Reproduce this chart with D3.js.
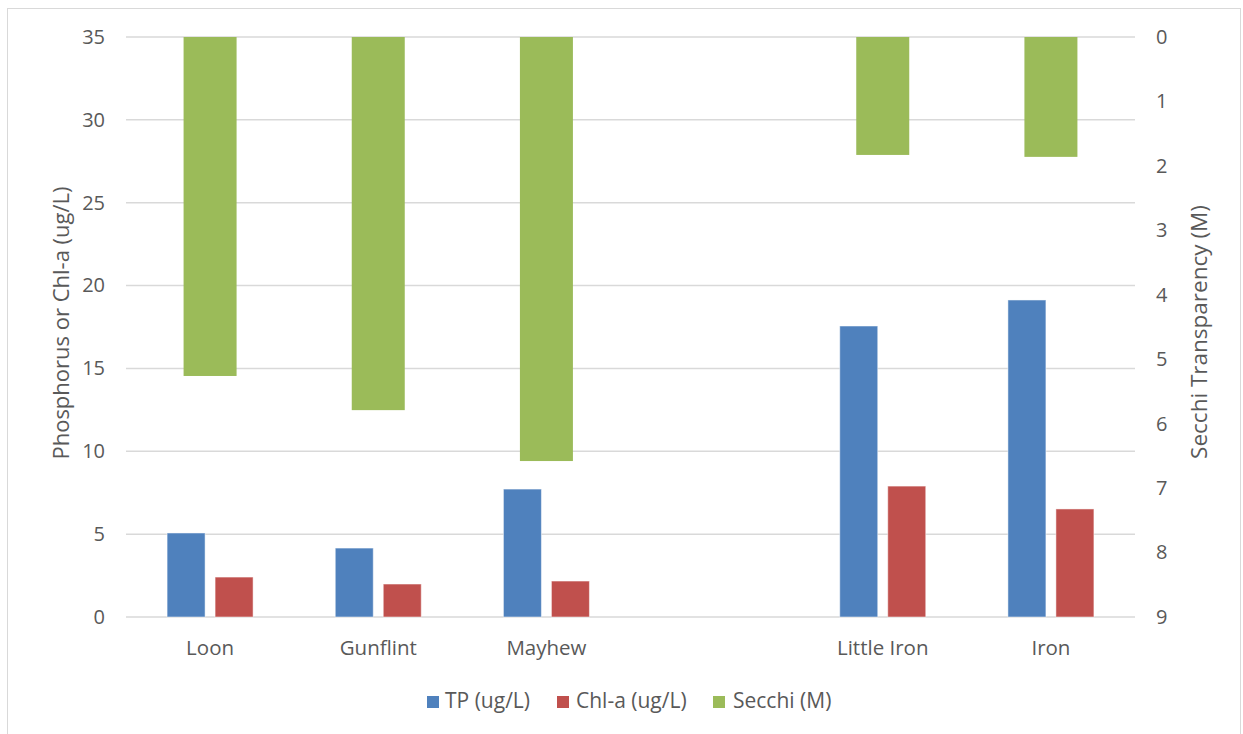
<!DOCTYPE html>
<html><head><meta charset="utf-8">
<script src="https://cdn.jsdelivr.net/npm/d3@7"></script>
<style>body{margin:0;background:#fff;} text{font-family:"Open Sans",sans-serif;fill:#595959;}</style>
</head><body><svg id="c" width="1243" height="734"></svg>
<script>
const categories = ["Loon", "Gunflint", "Mayhew", "", "Little Iron", "Iron"];
const tpValues = [5.07, 4.16, 7.72, null, 17.56, 19.13];
const chlValues = [2.41, 1.99, 2.17, null, 7.9, 6.52];
const secchiValues = [5.26, 5.79, 6.58, null, 1.83, 1.86];
const leftTicks = [0, 5, 10, 15, 20, 25, 30, 35];
const rightTicks = [0, 1, 2, 3, 4, 5, 6, 7, 8, 9];
const seriesNames = ["TP (ug/L)", "Chl-a (ug/L)", "Secchi (M)"];
const colors = ["#4F81BD", "#C0504D", "#9BBB59"];

const svg = d3.select("#c");
const L = 126, R = 1135, T = 37, B = 617;

svg.append("rect").attr("x", 7.5).attr("y", 8.5).attr("width", 1233).attr("height", 740)
  .attr("fill", "#fff").attr("stroke", "#D9D9D9").attr("stroke-width", 1);

const x = d3.scaleBand().domain(d3.range(categories.length)).range([L, R]).paddingInner(0).paddingOuter(0);
const yL = d3.scaleLinear().domain([0, 35]).range([B, T]);
const yR = d3.scaleLinear().domain([0, 9]).range([T, B]);

// gridlines
svg.append("g").selectAll("line").data(leftTicks).join("line")
  .attr("x1", L).attr("x2", R).attr("y1", d => yL(d)).attr("y2", d => yL(d))
  .attr("stroke", "#D9D9D9").attr("stroke-width", 1.5);

// left axis
const axL = svg.append("g").attr("transform", `translate(${L},0)`)
  .call(d3.axisLeft(yL).tickValues(leftTicks).tickSize(0).tickPadding(21));
axL.select(".domain").remove();
axL.selectAll("text").attr("font-size", 20).attr("fill", "#595959").style("font-family", "'Open Sans',sans-serif");

const axR = svg.append("g").attr("transform", `translate(${R},0)`)
  .call(d3.axisRight(yR).tickValues(rightTicks).tickSize(0).tickPadding(21));
axR.select(".domain").remove();
axR.selectAll("text").attr("font-size", 20).attr("fill", "#595959").style("font-family", "'Open Sans',sans-serif");

const bw = 38, gap = 10, sw = 53;
// secchi bars (secondary axis, from top)
svg.append("g").selectAll("rect").data(secchiValues.map((v, i) => ({v, i})).filter(d => d.v != null)).join("rect")
  .attr("x", d => x(d.i) + x.bandwidth() / 2 - sw / 2).attr("width", sw)
  .attr("y", yR(0)).attr("height", d => yR(d.v) - yR(0))
  .attr("fill", colors[2]);

// TP and Chl-a
[tpValues, chlValues].forEach((arr, k) => {
  svg.append("g").selectAll("rect").data(arr.map((v, i) => ({v, i})).filter(d => d.v != null)).join("rect")
    .attr("x", d => x(d.i) + x.bandwidth() / 2 - (bw + gap / 2) + k * (bw + gap))
    .attr("width", bw)
    .attr("y", d => yL(d.v)).attr("height", d => yL(0) - yL(d.v))
    .attr("fill", colors[k]).attr("stroke", "#fff").attr("stroke-opacity", 0.5).attr("stroke-width", 1);
});

// category labels
svg.append("g").selectAll("text").data(categories).join("text")
  .attr("x", (d, i) => x(i) + x.bandwidth() / 2).attr("y", 655)
  .attr("text-anchor", "middle").attr("font-size", 20.5).text(d => d);

// axis titles
svg.append("text").attr("transform", "translate(69,323) rotate(-90)")
  .attr("text-anchor", "middle").attr("font-size", 22).text("Phosphorus or Chl-a (ug/L)");
svg.append("text").attr("transform", "translate(1207,332) rotate(-90)")
  .attr("text-anchor", "middle").attr("font-size", 22.5).text("Secchi Transparency (M)");

// legend
const legX = [427, 557, 713];
const legTx = [445, 576, 733];
const lg = svg.append("g");
seriesNames.forEach((n, i) => {
  lg.append("rect").attr("x", legX[i]).attr("y", 696).attr("width", 12).attr("height", 12).attr("fill", colors[i]);
  lg.append("text").attr("x", legTx[i]).attr("y", 708).attr("font-size", 21).text(n);
});
</script></body></html>
